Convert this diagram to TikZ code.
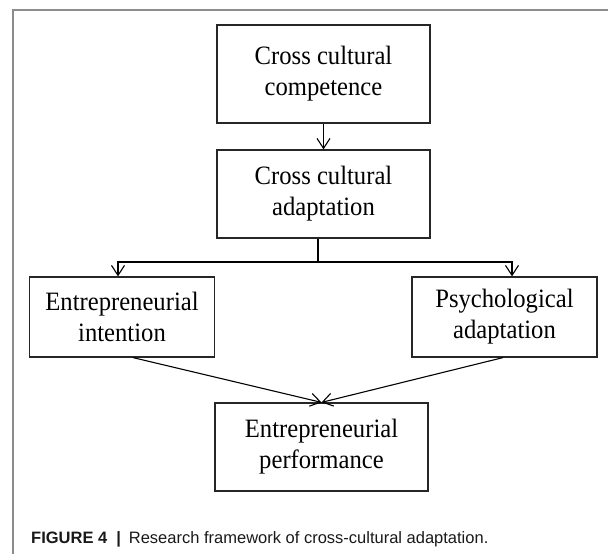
\documentclass[tikz,border=0pt]{standalone}
\usepackage{fontspec}
\setmainfont{Liberation Serif}
\newfontfamily\boxfont[FakeStretch=0.93]{Liberation Serif}
\newfontfamily\capfont{Liberation Sans}
\usetikzlibrary{arrows.meta}
\begin{document}
\begin{tikzpicture}[x=1pt,y=-1pt,
  box/.style={draw=black!85, line width=1.2pt, align=center, inner sep=0pt,
    font=\boxfont\fontsize{26.5}{31}\selectfont},
  link/.style={draw=black, line width=1.1pt, -{Straight Barb[length=10pt,width=13pt,line width=1.1pt]}},
  plain/.style={draw=black, line width=1.1pt}]
\useasboundingbox (0,0) rectangle (608,554);
% frame of the figure panel
\draw[black!45, line width=1.3pt] (13,554) -- (13,10) -- (608,10);
% boxes
\node[box, minimum width=213pt, minimum height=98pt] (ccc) at (323.5,74) {Cross cultural\\competence};
\node[box, minimum width=213pt, minimum height=88pt] (cca) at (323.5,194) {Cross cultural\\adaptation};
\node[box, minimum width=185pt, minimum height=80pt] (ei) at (122,317) {Entrepreneurial\\intention};
\node[box, minimum width=185pt, minimum height=80pt] (pa) at (504.5,317) {Psychological\\adaptation};
\node[box, minimum width=213pt, minimum height=88pt] (ep) at (321.5,447) {Entrepreneurial\\performance};
% connectors
\coordinate (split) at (318,262);
\draw[link] (ccc.south) -- (cca.north);
\draw[plain] (cca.south -| split) -- (split);
\draw[link] (split) -| ([xshift=-4pt]ei.north);
\draw[link] (split) -| ([xshift=7.5pt]pa.north);
\draw[link] ([xshift=11pt]ei.south) -- (ep.north);
\draw[link] ([xshift=-1.5pt]pa.south) -- (ep.north);
% caption
\node[anchor=base west, inner sep=0pt, font=\capfont\fontsize{16.5}{19}\selectfont, text=black!90] (cap) at (31,543)
  {\textbf{FIGURE 4}\hspace{9pt}\textbf{|}\hspace{8pt}Research framework of cross-cultural adaptation.};
\end{tikzpicture}
\end{document}
